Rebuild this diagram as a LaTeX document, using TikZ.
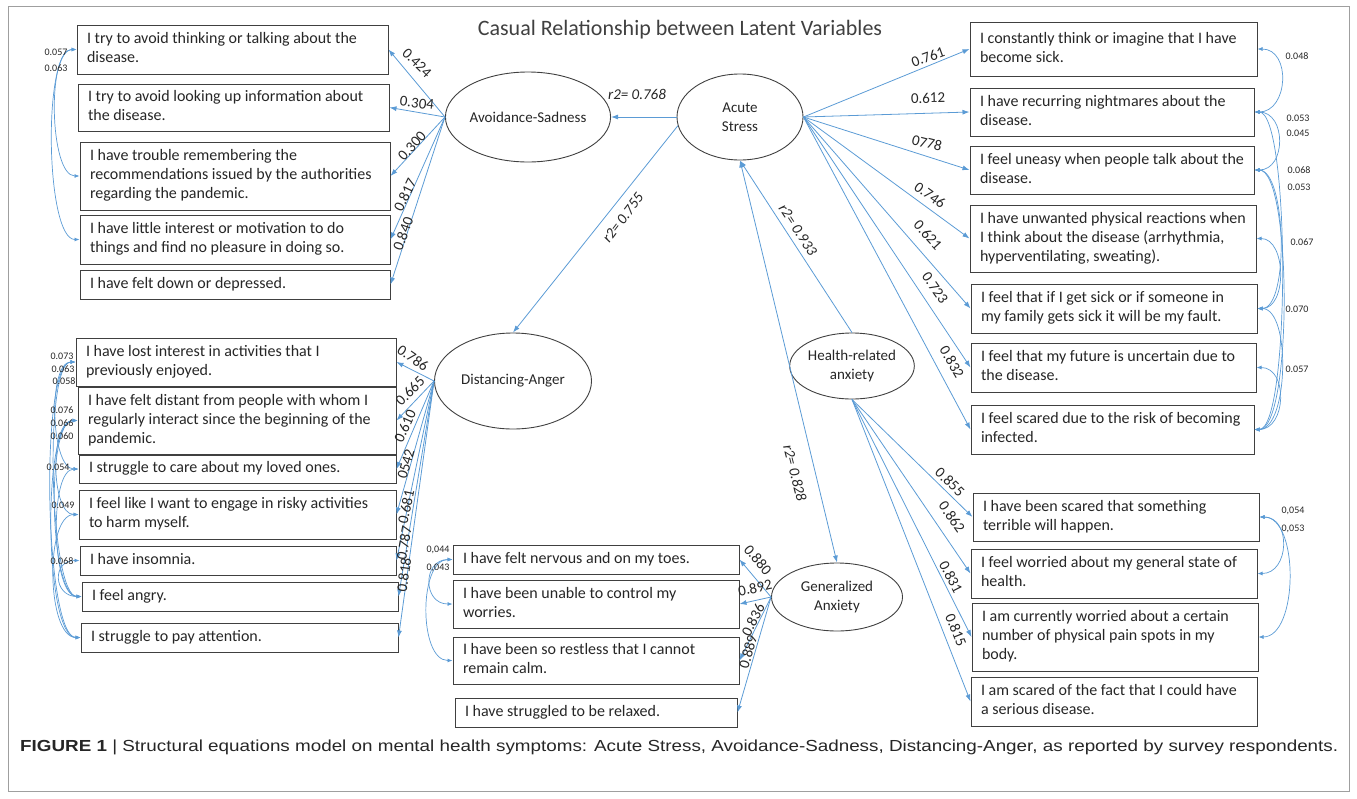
\documentclass[tikz,border=0pt]{standalone}
\usepackage{fontspec}
\usepackage{graphicx}
\setmainfont{Carlito}
\newfontfamily\capfont{Liberation Sans}
\usetikzlibrary{shapes.geometric,arrows.meta}
\definecolor{semblue}{RGB}{91,155,213}
\definecolor{boxgray}{RGB}{64,64,64}
\definecolor{txtgray}{RGB}{38,38,38}
\newcommand\itembx[6]{%
  \pgfmathsetmacro\bxw{#4-#2}%
  \pgfmathsetmacro\bxh{#5-#3}%
  \pgfmathsetmacro\bxtw{#4-#2-20}%
  \pgfmathsetmacro\bxcx{(#2+#4)/2}%
  \pgfmathsetmacro\bxcy{(#3+#5)/2}%
  \node[itembox, minimum width=\bxw pt, minimum height=\bxh pt] (#1) at (\bxcx,\bxcy)
    {\makebox[\bxtw pt][l]{\begin{tabular}{@{}l@{}}#6\end{tabular}}};}
\begin{document}
\begin{tikzpicture}[x=1pt,y=-1pt,
  itembox/.style={draw=boxgray, line width=1pt, inner xsep=10pt, inner ysep=2pt,
    font=\fontsize{16}{19}\selectfont, text=txtgray},
  latent/.style={ellipse, draw=boxgray, line width=0.9pt, inner sep=0pt, align=center,
    font=\fontsize{15}{19}\selectfont, text=txtgray},
  arr/.style={-{Latex[length=7pt,width=5pt]}, draw=semblue, line width=0.8pt},
  biarr/.style={{Latex[length=7pt,width=5pt]}-{Latex[length=7pt,width=5pt]}, draw=semblue, line width=0.8pt},
  cov/.style={{Latex[length=5pt,width=4pt]}-{Latex[length=5pt,width=4pt]}, draw=semblue, line width=0.7pt},
  wlab/.style={font=\fontsize{15}{18}\selectfont, text=txtgray, inner sep=0pt},
  rlab/.style={font=\fontsize{15}{18}\selectfont\itshape, text=txtgray, inner sep=0pt},
  clab/.style={font=\fontsize{10}{12}\selectfont, text=txtgray, inner sep=0pt}]
\useasboundingbox (0,0) rectangle (1357,798);
\draw[draw=gray!75, line width=0.8pt] (8,6) rectangle (1349,791);

\node[font=\fontsize{22}{26}\selectfont, text=boxgray] (title) at (680,30) {Casual Relationship between Latent Variables};

% latent variables
\node[latent, minimum width=144pt, minimum height=90pt] (AS) at (528,117) {Avoidance-Sadness};
\node[latent, minimum width=126pt, minimum height=86pt] (ACS) at (740,117) {Acute\\Stress};
\node[latent, minimum width=157pt, minimum height=96pt] (DA) at (513,381) {Distancing-Anger};
\node[latent, minimum width=118pt, minimum height=66pt] (HA) at (852,366) {Health-related\\anxiety};
\node[latent, minimum width=131pt, minimum height=68pt] (GA) at (837,597) {Generalized\\Anxiety};

% Avoidance-Sadness items
\itembx{A1}{77}{25}{388}{74}{I try to avoid thinking or talking about the\\disease.}
\itembx{A2}{78}{84}{389}{131}{I try to avoid looking up information about\\the disease.}
\itembx{A3}{80}{142}{390}{210}{I have trouble remembering the\\recommendations issued by the authorities\\regarding the pandemic.}
\itembx{A4}{80}{215}{390}{264}{I have little interest or motivation to do\\things and find no pleasure in doing so.}
\itembx{A5}{80}{270}{390}{299}{I have felt down or depressed.}

% Distancing-Anger items
\itembx{D1}{76}{338}{396}{386}{I have lost interest in activities that I\\previously enjoyed.}
\itembx{D2}{78}{387}{396}{454}{I have felt distant from people with whom I\\regularly interact since the beginning of the\\pandemic.}
\itembx{D3}{79}{455}{396}{483}{I struggle to care about my loved ones.}
\itembx{D4}{79}{490}{396}{539}{I feel like I want to engage in risky activities\\to harm myself.}
\itembx{D5}{80}{546}{396}{575}{I have insomnia.}
\itembx{D6}{82}{582}{398}{611}{I feel angry.}
\itembx{D7}{81}{623}{398}{652}{I struggle to pay attention.}

% Generalized Anxiety items
\itembx{G1}{453}{545}{739}{574}{I have felt nervous and on my toes.}
\itembx{G2}{453}{580}{739}{628}{I have been unable to control my\\worries.}
\itembx{G3}{453}{637}{739}{684}{I have been so restless that I cannot\\remain calm.}
\itembx{G4}{455}{698}{737}{727}{I have struggled to be relaxed.}

% Acute Stress items
\itembx{R1}{970}{22}{1257}{76}{I constantly think or imagine that I have\\become sick.}
\itembx{R2}{970}{88}{1254}{136}{I have recurring nightmares about the\\disease.}
\itembx{R3}{970}{146}{1254}{194}{I feel uneasy when people talk about the\\disease.}
\itembx{R4}{970}{205}{1256}{272}{I have unwanted physical reactions when\\I think about the disease (arrhythmia,\\hyperventilating, sweating).}
\itembx{R5}{971}{284}{1257}{333}{I feel that if I get sick or if someone in\\my family gets sick it will be my fault.}
\itembx{R6}{971}{343}{1256}{392}{I feel that my future is uncertain due to\\the disease.}
\itembx{R7}{971}{405}{1254}{454}{I feel scared due to the risk of becoming\\infected.}

% Health-related anxiety items
\itembx{H1}{973}{493}{1259}{541}{I have been scared that something\\terrible will happen.}
\itembx{H2}{971}{549}{1257}{598}{I feel worried about my general state of\\health.}
\itembx{H3}{972}{603}{1258}{671}{I am currently worried about a certain\\number of physical pain spots in my\\body.}
\itembx{H4}{971}{677}{1257}{726}{I am scared of the fact that I could have\\a serious disease.}

% structural paths
\draw[arr] (ACS.west) -- (AS.east);
\draw[arr] (ACS.188) -- (DA.north);
\draw[arr] (HA.north) -- (ACS.south);
\draw[biarr] (ACS.south) -- (GA.north);
\node[rlab] (r1) at (637,94) {r2= 0.768};
\node[rlab, rotate=53] (r2) at (623,218) {r2= 0.755};
\node[rlab, rotate=-57] (r3) at (798,230) {r2= 0.933};
\node[rlab, rotate=-76] (r4) at (795,473) {r2= 0.828};

% loadings Avoidance-Sadness
\foreach \i in {1,...,5} {\draw[arr] (AS.west) -- (A\i.east);}
\node[wlab, rotate=-44] (la1) at (417,63) {0.424};
\node[wlab, rotate=-7] (la2) at (417,103) {0.304};
\node[wlab, rotate=48] (la3) at (412,146) {0.300};
\node[wlab, rotate=64] (la4) at (405,195) {0.817};
\node[wlab, rotate=70] (la5) at (403,234) {0.840};

% loadings Distancing-Anger
\foreach \i in {1,...,7} {\draw[arr] (DA.west) -- (D\i.east);}
\node[wlab, rotate=-35] (ld1) at (413,358) {0.786};
\node[wlab, rotate=45] (ld2) at (410,391) {0.665};
\node[wlab, rotate=66] (ld3) at (405,426) {0.610};
\node[wlab, rotate=74] (ld4) at (406,464) {0542};
\node[wlab, rotate=78] (ld5) at (406,507) {0.681};
\node[wlab, rotate=80] (ld6) at (404,543) {0.787};
\node[wlab, rotate=82] (ld7) at (404,575) {0.818};

% loadings Acute Stress
\foreach \i in {1,...,7} {\draw[arr] (ACS.east) -- (R\i.west);}
\node[wlab, rotate=20] (lr1) at (928,57) {0.761};
\node[wlab, rotate=1] (lr2) at (928,98) {0.612};
\node[wlab, rotate=-14] (lr3) at (927,143) {0778};
\node[wlab, rotate=-36] (lr4) at (930,195) {0.746};
\node[wlab, rotate=-48] (lr5) at (928,235) {0.621};
\node[wlab, rotate=-55] (lr6) at (935,288) {0.723};
\node[wlab, rotate=-60] (lr7) at (952,362) {0.832};

% loadings Health-related anxiety
\foreach \i in {1,...,4} {\draw[arr] (HA.south) -- (H\i.west);}
\node[wlab, rotate=-44] (lh1) at (950,482) {0.855};
\node[wlab, rotate=-55] (lh2) at (952,517) {0.862};
\node[wlab, rotate=-63] (lh3) at (951,577) {0.831};
\node[wlab, rotate=-68] (lh4) at (956,630) {0.815};

% loadings Generalized Anxiety
\foreach \i in {1,...,4} {\draw[arr] (GA.west) -- (G\i.east);}
\node[wlab, rotate=-50] (lg1) at (758,560) {0.880};
\node[wlab, rotate=12] (lg2) at (755,588) {0.892};
\node[wlab, rotate=63] (lg3) at (753,620) {0.836};
\node[wlab, rotate=74] (lg4) at (748,652) {0.889};

% covariances left
\draw[cov] (A1.west) to[out=180,in=180,distance=30pt] (A3.west);
\draw[cov] (A1.west) to[out=180,in=180,distance=34pt] (A4.west);
\node[clab] (ca1) at (56,52) {0.057};
\node[clab] (ca2) at (56,68) {0.063};

\draw[cov] (D1.west) to[out=180,in=180,distance=28pt] (D3.west);
\draw[cov] (D1.west) to[out=180,in=180,distance=32pt] (D6.west);
\draw[cov] (D1.west) to[out=180,in=180,distance=36pt] (D7.west);
\draw[cov] (D2.west) to[out=180,in=180,distance=28pt] (D4.west);
\draw[cov] (D2.west) to[out=180,in=180,distance=32pt] (D6.west);
\draw[cov] (D2.west) to[out=180,in=180,distance=36pt] (D7.west);
\draw[cov] (D3.west) to[out=180,in=180,distance=30pt] (D6.west);
\draw[cov] (D4.west) to[out=180,in=180,distance=34pt] (D7.west);
\draw[cov] (D5.west) to[out=180,in=180,distance=28pt] (D6.west);
\node[clab] (cd1) at (62,356) {0.073};
\node[clab] (cd2) at (63,369) {0.063};
\node[clab] (cd3) at (64,381) {0.058};
\node[clab] (cd4) at (62,410) {0.076};
\node[clab] (cd5) at (62,423) {0.066};
\node[clab] (cd6) at (62,436) {0.060};
\node[clab] (cd7) at (58,467) {0.054};
\node[clab] (cd8) at (63,505) {0.049};
\node[clab] (cd9) at (62,561) {0.068};

\draw[cov] (G1.west) to[out=180,in=180,distance=30pt] (G2.west);
\draw[cov] (G1.west) to[out=180,in=180,distance=34pt] (G3.west);
\node[clab] (cg1) at (438,550) {0,044};
\node[clab] (cg2) at (438,568) {0,043};

% covariances right
\draw[cov] (R1.east) to[out=0,in=0,distance=34pt] (R2.east);
\draw[cov] (R2.east) to[out=0,in=0,distance=32pt] (R3.east);
\draw[cov] (R2.east) to[out=0,in=0,distance=36pt] (R7.east);
\draw[cov] (R3.east) to[out=0,in=0,distance=32pt] (R5.east);
\draw[cov] (R3.east) to[out=0,in=0,distance=38pt] (R7.east);
\draw[cov] (R4.east) to[out=0,in=0,distance=30pt] (R5.east);
\draw[cov] (R5.east) to[out=0,in=0,distance=34pt] (R7.east);
\draw[cov] (R6.east) to[out=0,in=0,distance=32pt] (R7.east);
\node[clab] (cr1) at (1297,56) {0.048};
\node[clab] (cr2) at (1298,118) {0.053};
\node[clab] (cr3) at (1298,133) {0.045};
\node[clab] (cr4) at (1299,170) {0.068};
\node[clab] (cr5) at (1299,187) {0.053};
\node[clab] (cr6) at (1302,242) {0.067};
\node[clab] (cr7) at (1297,309) {0.070};
\node[clab] (cr8) at (1297,369) {0.057};

\draw[cov] (H1.east) to[out=0,in=0,distance=32pt] (H2.east);
\draw[cov] (H1.east) to[out=0,in=0,distance=40pt] (H3.east);
\node[clab] (ch1) at (1293,511) {0,054};
\node[clab] (ch2) at (1293,529) {0,053};

% caption
\node[anchor=base west, inner sep=0pt, text=txtgray] (cap) at (20,751)
  {\resizebox{1318pt}{\height}{\capfont\fontsize{16}{19}\selectfont\textbf{FIGURE 1} | Structural equations model on mental health symptoms: Acute Stress, Avoidance-Sadness, Distancing-Anger, as reported by survey respondents.}};
\end{tikzpicture}
\end{document}
